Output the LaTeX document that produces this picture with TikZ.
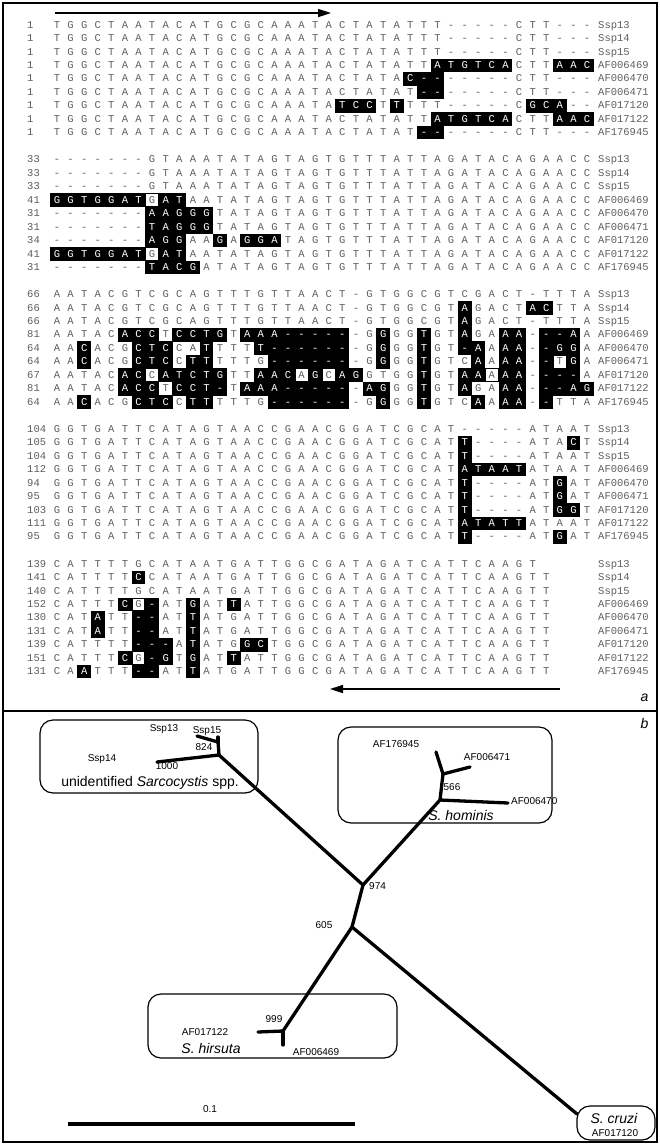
\documentclass[tikz,border=0pt]{standalone}
\usepackage{fontspec}
\setmainfont{Liberation Sans}
\setmonofont{Liberation Mono}
\usetikzlibrary{arrows.meta}
\definecolor{sqgray}{RGB}{95,95,95}
\makeatletter
\newcount\sqcol
\gdef\sqstate{0}
\def\sqparse#1{\ifx#1\relax\expandafter\@gobble\else\expandafter\@firstofone\fi{\sqtok#1\sqparse}}
\def\sqtok#1{\ifx#1*\gdef\sqstate{1}\else\ifx#1+\gdef\sqstate{2}\else\sqcell#1\gdef\sqstate{0}\fi\fi}
\makeatother
\def\sqcell#1{%
  \global\advance\sqcol by 1
  \pgfmathsetmacro\sqx{57+(\the\sqcol-1)*13.59}%
  \ifnum\sqstate=1\relax
    \fill[black] (\sqx-6.9,\sqy-6.85) rectangle (\sqx+6.9,\sqy+6.85);
    \node[seqw] at (\sqx,\sqy) {#1};
  \else
    \ifnum\sqstate=2\relax
      \draw[line width=0.9pt] (\sqx-6.4,\sqy-6.4) rectangle (\sqx+6.4,\sqy+6.4);
    \fi
    \node[seqc] at (\sqx,\sqy) {#1};
  \fi}
\newcommand\sqrow[5]{%
  \pgfmathsetmacro\sqy{25+#1*134.75+#2*13.45}%
  \global\sqcol=0
  \node[numc] (n#1#2) at (27,\sqy) {#3};
  \node[labc] (l#1#2) at (598,\sqy) {#4};
  \sqparse#5\relax}
\begin{document}
\begin{tikzpicture}[x=1pt,y=-1pt,
  seqc/.style={font=\ttfamily\fontsize{10.5}{12}\selectfont, text=sqgray, inner sep=0pt, text height=6.2pt, text depth=0pt, anchor=center},
  seqw/.style={seqc, text=white},
  numc/.style={seqc, anchor=west},
  labc/.style={seqc, anchor=west},
  branch/.style={line width=3.3pt, line cap=round, line join=round},
  grp/.style={draw, line width=1.2pt, rounded corners=13pt},
  tlab/.style={font=\fontsize{10}{12}\selectfont, inner sep=1pt},
  glab/.style={font=\fontsize{14}{16}\selectfont, inner sep=1pt},
  arr/.style={line width=1.6pt, -{Triangle[length=13pt,width=8pt]}}]
\useasboundingbox (0,0) rectangle (660,1144);
\fill[white] (0,0) rectangle (660,1144);
% frame
\draw[line width=1.5pt] (3,3) rectangle (657,1142);
\draw[line width=1.5pt] (3,711) -- (657,711);
% primer arrows
\coordinate (ta1) at (55,13); \coordinate (ta2) at (331,13);
\draw[arr] (ta1) -- (ta2);
\coordinate (ba1) at (560,689); \coordinate (ba2) at (330,689);
\draw[arr] (ba1) -- (ba2);
\node[font=\itshape\fontsize{14}{16}\selectfont, anchor=east] (pa) at (652,698) {a};
\node[font=\itshape\fontsize{14}{16}\selectfont, anchor=east] (pb) at (652,723) {b};
% block 1
\sqrow{0}{0}{1}{Ssp13}{TGGCTAATACATGCGCAAATACTATATTT-----CTT---}
\sqrow{0}{1}{1}{Ssp14}{TGGCTAATACATGCGCAAATACTATATTT-----CTT---}
\sqrow{0}{2}{1}{Ssp15}{TGGCTAATACATGCGCAAATACTATATTT-----CTT---}
\sqrow{0}{3}{1}{AF006469}{TGGCTAATACATGCGCAAATACTATATT*A*T*G*T*C*ACTT*A*A*C}
\sqrow{0}{4}{1}{AF006470}{TGGCTAATACATGCGCAAATACTATA*C*-*------CTT---}
\sqrow{0}{5}{1}{AF006471}{TGGCTAATACATGCGCAAATACTATAT*-*------CTT---}
\sqrow{0}{6}{1}{AF017120}{TGGCTAATACATGCGCAAATA*T*C*CT*TTTT-----C*G*C*A--}
\sqrow{0}{7}{1}{AF017122}{TGGCTAATACATGCGCAAATACTATATT*A*T*G*T*C*ACTT*A*A*C}
\sqrow{0}{8}{1}{AF176945}{TGGCTAATACATGCGCAAATACTATAT*-*------CTT---}
% block 2
\sqrow{1}{0}{33}{Ssp13}{-------GTAAATATAGTAGTGTTTATTAGATACAGAACC}
\sqrow{1}{1}{33}{Ssp14}{-------GTAAATATAGTAGTGTTTATTAGATACAGAACC}
\sqrow{1}{2}{33}{Ssp15}{-------GTAAATATAGTAGTGTTTATTAGATACAGAACC}
\sqrow{1}{3}{41}{AF006469}{*G*G*T*G*G*A*T+G*A*TAATATAGTAGTGTTTATTAGATACAGAACC}
\sqrow{1}{4}{31}{AF006470}{-------*A*A*G*G*GTATAGTAGTGTTTATTAGATACAGAACC}
\sqrow{1}{5}{31}{AF006471}{-------*T*A*G*G*GTATAGTAGTGTTTATTAGATACAGAACC}
\sqrow{1}{6}{34}{AF017120}{-------*A*G*GAA*GA*G*G*ATAGTGTTTATTAGATACAGAACC}
\sqrow{1}{7}{41}{AF017122}{*G*G*T*G*G*A*T+G*A*TAATATAGTAGTGTTTATTAGATACAGAACC}
\sqrow{1}{8}{31}{AF176945}{-------*T*A*C*GATATAGTAGTGTTTATTAGATACAGAACC}
% block 3
\sqrow{2}{0}{66}{Ssp13}{AATACGTCGCAGTTTGTTAACT-GTGGCGTCGACT-TTTA}
\sqrow{2}{1}{66}{Ssp14}{AATACGTCGCAGTTTGTTAACT-GTGGCGT*AGACT*A*CTTA}
\sqrow{2}{2}{66}{Ssp15}{AATACGTCGCAGTTTGTTAACT-GTGGCGT*AGACT-TTTA}
\sqrow{2}{3}{81}{AF006469}{AATAC*A*C*CT*C*C*T*GT*A*A*A*-*-*-*-*--G*GGG*TGT*AGA*A*A-*-*-*AA}
\sqrow{2}{4}{64}{AF006470}{AA*CACG*C*T*CCA*TTTT*T*-*-*-*-*-*--G*GGG*TGT*-*AA*A*A-*-*G*GA}
\sqrow{2}{5}{64}{AF006471}{AA*CACG*C*T*CC*T*TTTTG*-*-*-*-*-*--G*GGG*TGTC*AA*A*A-*-+T*GA}
\sqrow{2}{6}{67}{AF017120}{AATAC*A*C+C*A*T*C*T*GTT*A*A*C+A*G+C*A*GGTGG*TGT*A*A+A*A*A-*-*-*-A}
\sqrow{2}{7}{81}{AF017122}{AATAC*A*C*CT*C*C*T*-T*A*A*A*-*-*-*-*--*A*GGG*TGT*AGA*A*A-*-*-*A*G}
\sqrow{2}{8}{64}{AF176945}{AA*CACG*C*T*CC*T*TTTTG*-*-*-*-*-*--G*GGG*TGTC*AA*A*A-*-TTA}
% block 4
\sqrow{3}{0}{104}{Ssp13}{GGTGATTCATAGTAACCGAACGGATCGCAT-----ATAAT}
\sqrow{3}{1}{105}{Ssp14}{GGTGATTCATAGTAACCGAACGGATCGCAT*T----ATA*CT}
\sqrow{3}{2}{104}{Ssp15}{GGTGATTCATAGTAACCGAACGGATCGCAT*T----ATAAT}
\sqrow{3}{3}{112}{AF006469}{GGTGATTCATAGTAACCGAACGGATCGCAT*A*T*A*A*TATAAT}
\sqrow{3}{4}{94}{AF006470}{GGTGATTCATAGTAACCGAACGGATCGCAT*T----AT*GAT}
\sqrow{3}{5}{95}{AF006471}{GGTGATTCATAGTAACCGAACGGATCGCAT*T----AT*GAT}
\sqrow{3}{6}{103}{AF017120}{GGTGATTCATAGTAACCGAACGGATCGCAT*T----AT*G*GT}
\sqrow{3}{7}{111}{AF017122}{GGTGATTCATAGTAACCGAACGGATCGCAT*A*T*A*T*TATAAT}
\sqrow{3}{8}{95}{AF176945}{GGTGATTCATAGTAACCGAACGGATCGCAT*T----AT*GAT}
% block 5
\sqrow{4}{0}{139}{Ssp13}{CATTTTGCATAATGATTGGCGATAGATCATTCAAGT}
\sqrow{4}{1}{141}{Ssp14}{CATTTT*CCATAATGATTGGCGATAGATCATTCAAGTT}
\sqrow{4}{2}{140}{Ssp15}{CATTTTGCATAATGATTGGCGATAGATCATTCAAGTT}
\sqrow{4}{3}{152}{AF006469}{CATTT*C+G*-AT*GAT*TATTGGCGATAGATCATTCAAGTT}
\sqrow{4}{4}{130}{AF006470}{CAT*ATT*-*-AT*TATGATTGGCGATAGATCATTCAAGTT}
\sqrow{4}{5}{131}{AF006471}{CAT*ATT*-*-AT*TATGATTGGCGATAGATCATTCAAGTT}
\sqrow{4}{6}{139}{AF017120}{CATTTT*-*-*-A*TATG*G*CTGGCGATAGATCATTCAAGTT}
\sqrow{4}{7}{151}{AF017122}{CATTT*C+G*-*GT*GAT*TATTGGCGATAGATCATTCAAGTT}
\sqrow{4}{8}{131}{AF176945}{CA*ATTT*-*-AT*TATGATTGGCGATAGATCATTCAAGTT}
% ---------------- tree ----------------
\draw[grp] (40,720) rectangle (258,793);
\draw[grp] (338,727) rectangle (552,823);
\draw[grp] (148,994) rectangle (397,1058);
\draw[grp] (577,1106) rectangle (655,1140);
\coordinate (t13) at (197,736);
\coordinate (t15) at (218,737);
\coordinate (j1315) at (218,742);
\coordinate (t14) at (157,762);
\coordinate (jssp) at (219,755);
\coordinate (n974) at (363,885);
\coordinate (tA176945) at (436,752);
\coordinate (jh1) at (443,774);
\coordinate (tA006471) at (470,767);
\coordinate (n566) at (440,800);
\coordinate (tA006470) at (508,803);
\coordinate (n605) at (352,927);
\coordinate (n999) at (283,1031);
\coordinate (tA017122) at (258,1032);
\coordinate (tA006469) at (283,1045);
\coordinate (tA017120) at (577,1114);
\draw[branch] (t13) -- (j1315);
\draw[branch] (t15) -- (j1315);
\draw[branch] (j1315) -- (jssp);
\draw[branch] (t14) -- (jssp);
\draw[branch] (jssp) -- (n974);
\draw[branch] (tA176945) -- (jh1);
\draw[branch] (tA006471) -- (jh1);
\draw[branch] (jh1) -- (n566);
\draw[branch] (tA006470) -- (n566);
\draw[branch] (n566) -- (n974);
\draw[branch] (n974) -- (n605);
\draw[branch] (n605) -- (n999);
\draw[branch] (tA017122) -- (n999);
\draw[branch] (tA006469) -- (n999);
\draw[branch] (n605) -- (tA017120);
% labels
\node[tlab] (lSsp13) at (164,729) {Ssp13};
\node[tlab] (lSsp15) at (207,731) {Ssp15};
\node[tlab] (b824) at (204,747) {824};
\node[tlab] (lSsp14) at (102,759) {Ssp14};
\node[tlab] (b1000) at (167,766) {1000};
\node[glab] (gssp) at (150,783) {unidentified \textit{Sarcocystis} spp.};
\node[tlab] (lA176945) at (396,744) {AF176945};
\node[tlab] (lA006471) at (487,757) {AF006471};
\node[tlab] (b566) at (452,787) {566};
\node[tlab, anchor=west] (lA006470) at (510,801) {AF006470};
\node[glab] (ghom) at (461,815) {\textit{S. hominis}};
\node[tlab, anchor=west] (b974) at (368,886) {974};
\node[tlab] (b605) at (324,925) {605};
\node[tlab] (b999) at (274,1019) {999};
\node[tlab] (lA017122) at (205,1032) {AF017122};
\node[glab] (ghir) at (211,1048) {\textit{S. hirsuta}};
\node[tlab] (lA006469) at (316,1052) {AF006469};
\node[glab] (gcru) at (614,1118) {\textit{S. cruzi}};
\node[tlab] (lA017120) at (615,1133) {AF017120};
% scale bar
\coordinate (sb1) at (68,1124); \coordinate (sb2) at (355,1124);
\draw[line width=4pt] (sb1) -- (sb2);
\node[tlab] (sbl) at (210,1109) {0.1};
\end{tikzpicture}
\end{document}
